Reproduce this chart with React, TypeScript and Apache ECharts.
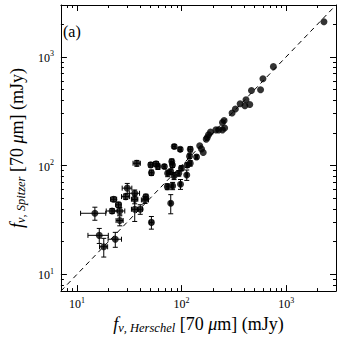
import React, { useEffect, useRef } from 'react';
import * as echarts from 'echarts';

// Herschel 70 µm flux (mJy)
const herschel = [
  14.8, 16.3, 18.0, 23.2, 21.6, 22.4, 24.9, 25.6, 25.6, 29.2,
  30.2, 35.6, 35.6, 35.6, 37.3, 40.2, 44.7, 45.5, 51.4, 51.4,
  50.7, 57.0, 59.3, 68.4, 73.5, 73.0, 78.7, 80.5, 81.7, 78.7,
  84.7, 82.0, 85.0, 94.0, 97.6, 99.5, 97.0, 112, 113, 121,
  121, 119, 139, 149, 155, 161, 172, 176, 181, 189,
  213, 226, 246, 258, 246, 255, 304, 327, 363, 403,
  449, 413, 466, 569, 600, 755, 2300,
];
// Spitzer 70 µm flux (mJy)
const spitzer = [
  36.4, 22.8, 17.9, 21.0, 38.2, 49.0, 43.5, 38.2, 31.2, 51.8,
  62.0, 55.6, 49.0, 39.6, 105, 39.6, 48.3, 51.5, 30.0, 86.0,
  101.5, 103.7, 98.0, 98.0, 85.0, 64.0, 45.0, 109, 101, 88.0,
  80.3, 65.0, 150, 85.0, 67.4, 94.6, 141, 82.0, 101, 105,
  141, 122, 120, 152, 142, 132, 175, 181, 192, 203,
  213, 213, 213, 222, 249, 260, 304, 331, 370, 355,
  365, 403, 491, 499, 630, 813, 2100,
];
// Errors (mJy)
const herschelErr = [
  4.0, 3.6, 1.6, 3.4, 2.6, 1.5, 1.5, 3.0, 2.0, 2.6,
  3.2, 4.0, 2.5, 2.5, 3.0, 2.0, 3.5, 2.0, 2.0, 2.0,
  2.0, 3.0, 2.0, 2.0, 2.0, 2.0, 2.0, 3.0, 3.0, 2.0,
  2.0, 2.0, 3.0, 2.0, 2.0, 3.0, 3.0, 2.0, 2.0, 3.0,
  5.0, 3.0, 3.0, 0, 0, 0, 0, 0, 0, 0,
  0, 0, 0, 0, 0, 0, 0, 0, 0, 0,
  0, 0, 0, 0, 0, 0, 0,
];
const spitzerErr = [
  5.0, 3.6, 3.5, 3.3, 2.0, 2.5, 2.5, 3.0, 3.3, 3.0,
  6.5, 4.0, 4.5, 9.0, 6.5, 4.0, 3.5, 3.0, 4.0, 5.0,
  5.0, 5.0, 6.0, 4.0, 6.0, 4.0, 9.0, 6.0, 5.0, 5.0,
  6.0, 5.0, 6.0, 5.0, 7.0, 5.0, 6.0, 9.0, 5.0, 6.0,
  8.0, 6.0, 5.0, 0, 0, 0, 0, 0, 0, 0,
  0, 0, 0, 0, 0, 0, 0, 0, 0, 0,
  0, 0, 0, 0, 0, 0, 0,
];

const axisMin = 7;
const axisMax = 3000;
const majorTicks = [10, 100, 1000];
const minorTicks = [8, 9, 20, 30, 40, 50, 60, 70, 80, 90, 200, 300, 400, 500, 600, 700, 800, 900, 2000];
const oneToOne = [7, 3000];
const panelLabel = '(a)';
const xTitle = '{i|f}{sub|ν, Herschel}{r| [70 }{i|μ}{r|m] (mJy)}';
const yTitle = '{i|f}{sub|ν, Spitzer}{r| [70 }{i|μ}{r|m] (mJy)}';

const FONT = 'Liberation Serif';

export default function App() {
  const ref = useRef<HTMLDivElement>(null);
  useEffect(() => {
    const chart = echarts.init(ref.current!, null, { renderer: 'svg' });
    const lineStyle = { color: '#000', width: 1 };
    const labelFmt = (v: number) => `{b|10}{s|${Math.round(Math.log10(v))}}`;
    const labelRich = {
      b: { fontFamily: FONT, fontSize: 12, color: '#000', lineHeight: 14, verticalAlign: 'bottom' },
      s: { fontFamily: FONT, fontSize: 8, color: '#000', lineHeight: 8, verticalAlign: 'top' },
    };
    const nameRich = {
      r: { fontFamily: FONT, fontSize: 18, color: '#000', lineHeight: 20, verticalAlign: 'middle' },
      i: { fontFamily: FONT, fontSize: 18, fontStyle: 'italic', color: '#000', lineHeight: 20, verticalAlign: 'middle' },
      sub: { fontFamily: FONT, fontSize: 12.5, fontStyle: 'italic', color: '#000', lineHeight: 13, verticalAlign: 'bottom' },
    };
    const base = { type: 'log', logBase: 10, min: axisMin, max: axisMax, gridIndex: 0, splitLine: { show: false } };
    const mkAxis = (position: string, major: boolean, withLabels: boolean, extra: any = {}) => ({
      ...base,
      position,
      axisLine: { show: major, onZero: false, lineStyle },
      axisTick: { show: true, inside: true, length: major ? 6 : 3, customValues: major ? majorTicks : minorTicks, lineStyle },
      axisLabel: withLabels
        ? { show: true, customValues: majorTicks, formatter: labelFmt, rich: labelRich, margin: position === 'bottom' ? 5 : 7 }
        : { show: false },
      ...extra,
    });

    const option: any = {
      animation: false,
      backgroundColor: '#fff',
      grid: { left: 49, top: 5, width: 287, height: 287, containLabel: false },
      xAxis: [
        mkAxis('bottom', true, true, {
          name: xTitle, nameLocation: 'middle', nameGap: 20,
          nameTextStyle: { fontFamily: FONT, fontSize: 18, color: '#000', rich: nameRich },
        }),
        mkAxis('bottom', false, false),
        mkAxis('top', true, false),
        mkAxis('top', false, false),
      ],
      yAxis: [
        mkAxis('left', true, true, {
          name: yTitle, nameLocation: 'middle', nameGap: 25,
          nameTextStyle: { fontFamily: FONT, fontSize: 18, color: '#000', rich: nameRich },
        }),
        mkAxis('left', false, false),
        mkAxis('right', true, false),
        mkAxis('right', false, false),
      ],
      graphic: [
        { type: 'text', left: 63, top: 23, style: { text: panelLabel, font: `16px ${FONT}`, fill: '#000' } },
      ],
      series: [
        {
          type: 'line',
          data: oneToOne.map((v) => [v, v]),
          symbol: 'none',
          silent: true,
          lineStyle: { color: '#000', width: 1, type: [5, 4] },
          z: 1,
        },
        {
          type: 'custom',
          data: herschel.map((x, i) => [x, spitzer[i], herschelErr[i], spitzerErr[i]]),
          encode: { x: 0, y: 1 },
          silent: true,
          z: 2,
          renderItem: (_params: any, api: any) => {
            const x = api.value(0);
            const y = api.value(1);
            const ex = api.value(2);
            const ey = api.value(3);
            const cap = 2.5;
            const st = { stroke: '#000', lineWidth: 1 };
            const children: any[] = [];
            if (ex > 0) {
              const l = api.coord([x - ex, y]);
              const r = api.coord([x + ex, y]);
              children.push({ type: 'line', shape: { x1: l[0], y1: l[1], x2: r[0], y2: r[1] }, style: st });
              children.push({ type: 'line', shape: { x1: l[0], y1: l[1] - cap, x2: l[0], y2: l[1] + cap }, style: st });
              children.push({ type: 'line', shape: { x1: r[0], y1: r[1] - cap, x2: r[0], y2: r[1] + cap }, style: st });
            }
            if (ey > 0) {
              const b = api.coord([x, y - ey]);
              const t = api.coord([x, y + ey]);
              children.push({ type: 'line', shape: { x1: b[0], y1: b[1], x2: t[0], y2: t[1] }, style: st });
              children.push({ type: 'line', shape: { x1: b[0] - cap, y1: b[1], x2: b[0] + cap, y2: b[1] }, style: st });
              children.push({ type: 'line', shape: { x1: t[0] - cap, y1: t[1], x2: t[0] + cap, y2: t[1] }, style: st });
            }
            return { type: 'group', children };
          },
        },
        {
          type: 'scatter',
          data: herschel.map((x, i) => [x, spitzer[i]]),
          symbol: 'circle',
          symbolSize: 7,
          itemStyle: { color: '#000' },
          silent: true,
          z: 3,
        },
      ],
    };
    chart.setOption(option);
    return () => chart.dispose();
  }, []);
  return (
    <div
      ref={ref}
      style={{ position: 'fixed', left: 0, top: 0, width: 341, height: 339, background: '#fff' }}
    />
  );
}
